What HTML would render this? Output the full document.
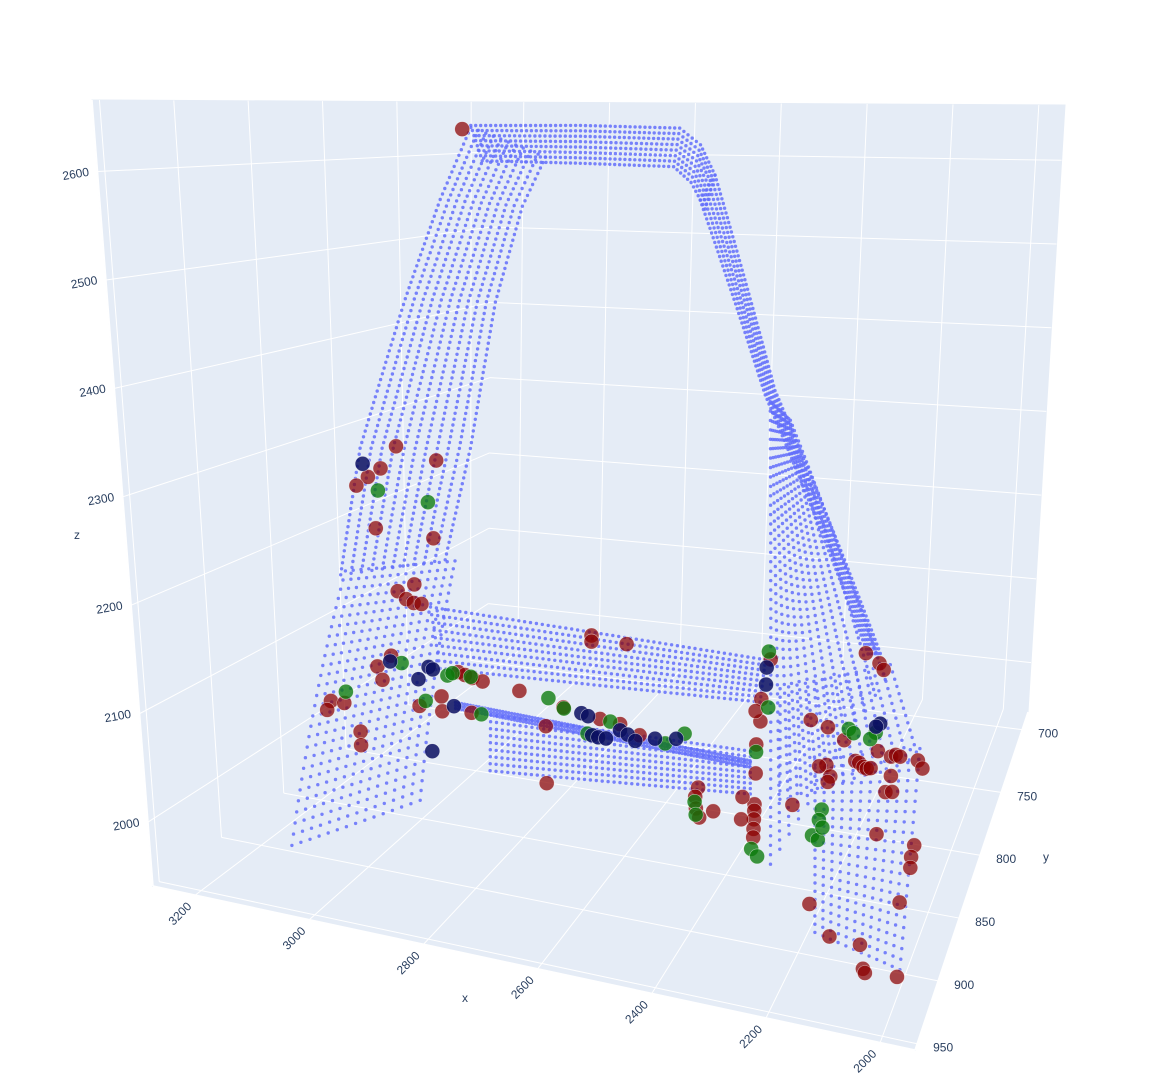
<!DOCTYPE html>
<html><head><meta charset="utf-8"><style>
html,body{margin:0;padding:0;background:#fff;}
svg{display:block;font-family:"Liberation Sans",sans-serif;}
</style></head><body>
<svg id="chart" width="1149" height="1087" viewBox="0 0 1149 1087" xmlns="http://www.w3.org/2000/svg">
<g id="panes"></g>
<g id="grid"></g>
<g id="labels"></g>
<g id="cloud"></g>
<g id="markers"></g>
</svg>
<script>
// ---- axis ranges & ticks ----
const xTicks=[2000,2200,2400,2600,2800,3000,3200];
const yTicks=[700,750,800,850,900,950];
const zTicks=[2000,2100,2200,2300,2400,2500,2600];
const XMIN=1939,XMAX=3274,YMIN=686,YMAX=955,ZMIN=1941,ZMAX=2666;

// ---- blue frame cloud (data units) ----
const archLeftOuter=[[3272,800,2136],[3224,800,2280],[3127,800,2449],[3056,800,2559],[2996,800,2638]];
const archLeftInner=[[3058,800,2166],[3004,800,2290],[2952,800,2450],[2899,800,2554],[2855,800,2607]];
const roofOuter=[[2996,800,2640],[2789,800,2641],[2602,800,2639],[2562,800,2622],[2533,800,2591]];
const roofInner=[[2975,800,2602],[2789,800,2601],[2612,800,2599],[2578,800,2583],[2550,800,2556]];
const diagOuter=[[2533,800,2591],[2404,800,2374],[2170,800,2122]];
const diagInner=[[2560,800,2565],[2423,800,2369],[2195,800,2120]];
const sillBackA=[[2982,847,2154],[2343,847,2144]];
const sillBackB=[[2966,847,2093],[2350,847,2104]];
const sillFrontA=[[2869,847,2054],[2365,847,2057]];
const sillFrontB=[[2871,847,1998],[2362,847,2017]];
const sillLineA=[[2937,847,2061],[2365,847,2048]];
const sillLineB=[[2937,847,2055],[2365,847,2042]];
const bPillarPatch=[[2353,847,2385],[2315,847,2369],[2114,847,2140],[2317,847,1955]];
const footPatch=[[3262,800,2141],[3038,800,2166],[2899,901,2014],[3140,901,1948]];
const rearPatch=[[2255,901,2163],[2064,901,2195],[2003,901,2120],[2246,901,2069]];
const rearLegPatch=[[2187,901,2107],[2002,901,2129],[2010,901,1945],[2170,901,1962]];

// ---- markers (data units) ----
const redPoints=[[2910,847,2638],[3040,847,2314],[2966,847,2303],[3070,847,2290],[3094,847,2280],[3116,847,2270],[3082,847,2228],[2974,847,2224],[3044,847,2166],[3028,847,2159],[3014,847,2156],[2999,847,2156],[3012,847,2175],[2675,847,2146],[2675,847,2140],[2608,847,2142],
[3087,847,2086],[3078,847,2073],[3060,847,2099],[2931,847,2092],[2918,847,2090],[2904,847,2088],[2884,847,2086],[3180,847,2043],[3188,847,2033],[3154,847,2043],[3007,847,2052],[2964,847,2065],[2963,847,2050],[2906,847,2053],[2813,847,2082],[2728,847,2072],[3124,847,2016],[3124,847,2002],[2762,847,2051],[2657,847,2066],[2618,847,2064],[2580,847,2056],[2760,847,1995],
[2333,847,2145],[2348,847,2107],[2348,847,2086],[2358,847,2095],[2354,847,2064],[2353,847,2037],[2353,847,2008],[2353,847,2002],[2353,847,1994],[2353,847,1985],[2353,847,1977],[2377,847,2013],[2378,847,1992],[2464,847,2015],[2469,847,2006],[2467,847,1995],[2460,847,1987],[2433,847,1995],
[2223,901,2066],[2198,901,2140],[2167,901,2136],[2137,901,2127],[2108,901,2202],[2083,901,2195],[2075,901,2190],[2166,901,2104],[2158,901,2095],[2162,901,2090],[2179,901,2102],[2115,901,2111],[2108,901,2110],[2100,901,2107],[2094,901,2106],[2087,901,2107],[2076,901,2122],[2052,901,2119],[2044,901,2121],[2036,901,2120],[2004,901,2119],[1995,901,2113],[2058,901,2089],[2046,901,2090],[2069,901,2053],[2050,901,2103],[2000,901,2049],[2004,901,2039],[2004,901,2030],[2019,901,2000],[2183,901,1985],[2143,901,1961],[2086,901,1959],[2056,930,1970],[2052,930,1967],[1995,930,1969]];
const greenPoints=[[3076,847,2267],[2983,847,2260],[3040,847,2093],[2952,847,2087],[2942,847,2090],[2907,847,2089],[3150,847,2055],[2995,847,2058],[2887,847,2053],[2757,847,2079],[2727,847,2071],[2637,847,2065],[2681,847,2050],[2530,847,2052],[2493,847,2064],[2337,847,2152],[2334,847,2100],[2354,847,2057],[2356,847,1966],[2344,847,1960],[2470,847,2001],[2467,847,1989],[2130,901,2137],[2121,901,2134],[2082,901,2137],[2091,901,2131],[2170,901,2066],[2174,901,2057],[2185,901,2043],[2174,901,2040],[2167,901,2051]];
const navyPoints=[[3103,847,2293],[3062,847,2093],[2988,847,2093],[2980,847,2091],[3008,847,2079],[2940,847,2057],[2693,847,2069],[2680,847,2067],[2984,847,2008],[2618,847,2058],[2603,847,2055],[2588,847,2050],[2550,847,2055],[2672,847,2049],[2660,847,2048],[2645,847,2048],[2509,847,2058],[2340,847,2137],[2340,847,2121],[2075,901,2145],[2082,901,2142]];

// ---- projection (scene corners in screen px) ----
const C={"000":[153,886],"100":[915,1050],"110":[1028,712],"010":[488,648],
"001":[92,100],"101":[990,100],"111":[1065,105],"011":[492,102]};
function lerp(a,b,t){return [a[0]+(b[0]-a[0])*t,a[1]+(b[1]-a[1])*t];}
function P(x,y,z){
  const u=(XMAX-x)/(XMAX-XMIN), v=(YMAX-y)/(YMAX-YMIN), w=(z-ZMIN)/(ZMAX-ZMIN);
  const b=lerp(lerp(C["000"],C["100"],u),lerp(C["010"],C["110"],u),v);
  const t=lerp(lerp(C["001"],C["101"],u),lerp(C["011"],C["111"],u),v);
  return lerp(b,t,w);
}
const NS="http://www.w3.org/2000/svg";
function mk(tag,parent){const e=document.createElementNS(NS,tag);parent.appendChild(e);return e;}
const panes=document.getElementById('panes'),grid=document.getElementById('grid'),labels=document.getElementById('labels'),cloud=document.getElementById('cloud'),markers=document.getElementById('markers');

// panes
[[["000","100","110","010"],"floor-pane"],[["000","010","011","001"],"left-wall-pane"],[["010","110","111","011"],"back-wall-pane"]].forEach(([ks,name])=>{
  const p=mk('polygon',panes);
  p.setAttribute('points',ks.map(k=>C[k].join(',')).join(' '));
  p.setAttribute('fill','#e5ecf6');p.setAttribute('stroke','#e5ecf6');p.setAttribute('stroke-width','1');
  
  
});
function line(a,b,name,wd){
  const l=mk('line',grid);
  l.setAttribute('x1',a[0]);l.setAttribute('y1',a[1]);l.setAttribute('x2',b[0]);l.setAttribute('y2',b[1]);
  l.setAttribute('stroke','#fff');l.setAttribute('stroke-width',wd||1);
  
  
}
xTicks.forEach(x=>{line(P(x,YMAX,ZMIN),P(x,YMIN,ZMIN),'x-gridline-floor');line(P(x,YMIN,ZMIN),P(x,YMIN,ZMAX),'x-gridline-wall');});
yTicks.forEach(y=>{line(P(XMAX,y,ZMIN),P(XMIN,y,ZMIN),'y-gridline-floor');line(P(XMAX,y,ZMIN),P(XMAX,y,ZMAX),'y-gridline-wall');});
zTicks.forEach(z=>{line(P(XMAX,YMAX,z),P(XMAX,YMIN,z),'z-gridline-left');line(P(XMAX,YMIN,z),P(XMIN,YMIN,z),'z-gridline-back');});
line(P(XMAX,YMAX,ZMIN),P(XMIN,YMAX,ZMIN),'x-axis-line',1.5);
line(P(XMIN,YMAX,ZMIN),P(XMIN,YMIN,ZMIN),'y-axis-line',1.5);
line(P(XMAX,YMAX,ZMIN),P(XMAX,YMAX,ZMAX),'z-axis-line',1.5);

function text(str,x,y,anchor,rot,name){
  const t=mk('text',labels);t.textContent=str;
  t.setAttribute('x',x);t.setAttribute('y',y);t.setAttribute('text-anchor',anchor);
  t.setAttribute('font-size','12');t.setAttribute('fill','#2a3f5f');
  if(rot)t.setAttribute('transform','rotate('+rot+' '+x+' '+y+')');
  
  
}
xTicks.forEach(x=>{const p=P(x,YMAX,ZMIN);text(String(x),p[0]-3,p[1]+12,'end',-45,'x-tick-label');});
yTicks.forEach(y=>{const p=P(XMIN,y,ZMIN);text(String(y),p[0]+16,p[1]+8,'start',0,'y-tick-label');});
zTicks.forEach(z=>{const p=P(XMAX,YMAX,z);text(String(z),p[0]-8,p[1]+4,'end',-10,'z-tick-label');});
text('x',465,1002,'middle',0,'x-axis-title');
text('y',1046,861,'middle',0,'y-axis-title');
text('z',77,539,'middle',0,'z-axis-title');

// cloud dots
function dot(p){
  const c=mk('circle',cloud);
  c.setAttribute('cx',p[0].toFixed(1));c.setAttribute('cy',p[1].toFixed(1));c.setAttribute('r','1.7');
  c.setAttribute('fill','#636efa');c.setAttribute('fill-opacity','0.85');
  
  
}
function lerp3(a,b,t){return [a[0]+(b[0]-a[0])*t,a[1]+(b[1]-a[1])*t,a[2]+(b[2]-a[2])*t];}
function polyDots(pts,spacing){
  const sp=pts.map(q=>P(q[0],q[1],q[2]));
  for(let i=0;i<sp.length-1;i++){
    const L=Math.hypot(sp[i+1][0]-sp[i][0],sp[i+1][1]-sp[i][1]);
    const n=Math.max(1,Math.round(L/spacing));
    for(let k=0;k<n;k++){const q=lerp3(pts[i],pts[i+1],k/n);dot(P(q[0],q[1],q[2]));}
  }
  const l=pts[pts.length-1];dot(P(l[0],l[1],l[2]));
}
function ribbon(A,B,nA,spacing){
  for(let i=0;i<nA;i++){const t=i/(nA-1);polyDots(A.map((a,j)=>lerp3(a,B[j],t)),spacing);}
}
function patch(c,nc,nr){
  for(let r=0;r<nr;r++)for(let k=0;k<nc;k++){
    const s=k/(nc-1),t=r/(nr-1);
    const q=lerp3(lerp3(c[0],c[1],s),lerp3(c[3],c[2],s),t);
    dot(P(q[0],q[1],q[2]));
  }
}
patch(footPatch,15,28);
patch(bPillarPatch,13,50);
patch(rearPatch,14,14);
patch(rearLegPatch,12,22);
ribbon(archLeftOuter,archLeftInner,11,6);
ribbon(roofOuter,roofInner,8,5);
ribbon(diagOuter,diagInner,6,5);
ribbon(sillBackA,sillBackB,9,6);
ribbon(sillFrontA,sillFrontB,9,6);
ribbon(sillLineA,sillLineB,3,3);

// markers
function markerSet(arr,color,op,name){
  arr.forEach(q=>{
    const p=P(q[0],q[1],q[2]);
    const c=mk('circle',markers);
    c.setAttribute('cx',p[0].toFixed(1));c.setAttribute('cy',p[1].toFixed(1));c.setAttribute('r','7.5');
    c.setAttribute('fill',color);c.setAttribute('fill-opacity',op);
    c.setAttribute('stroke','#ffffff');c.setAttribute('stroke-opacity','0.6');c.setAttribute('stroke-width','0.6');
    
    
  });
}
markerSet(redPoints,'#8b0000','0.72','red-marker');
markerSet(greenPoints,'#0a7a0a','0.78','green-marker');
markerSet(navyPoints,'#0a0f60','0.85','navy-marker');
</script>
</body></html>
